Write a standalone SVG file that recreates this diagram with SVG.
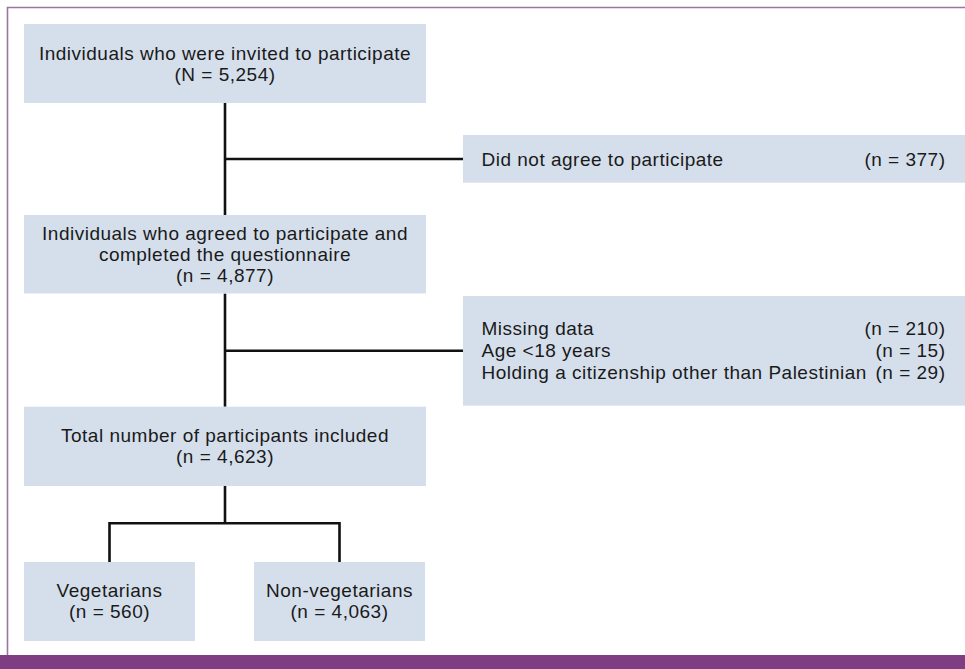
<svg xmlns="http://www.w3.org/2000/svg" width="965" height="669" viewBox="0 0 965 669">
<style>
.box{fill:#d5dfec}
.t{font-family:"Liberation Sans",Arial,sans-serif;font-size:19px;letter-spacing:0.5px;fill:#1a1a1a}
.c{text-anchor:middle}
.e{text-anchor:end}
.ln{stroke:#111;stroke-width:2.6;fill:none}
</style>
<rect x="0" y="0" width="965" height="669" fill="#fff"/>
<path d="M7.5,655 V7.5 H965" fill="none" stroke="#9d73a3" stroke-width="1.6"/>
<rect x="0" y="655" width="965" height="14" fill="#7e3e81"/>

<g id="connectors">
<path class="ln" d="M225,103 V215 M225,159 H463"/>
<path class="ln" d="M225,293.5 V406.7 M225,350.7 H463"/>
<path class="ln" d="M225,486 V523.3 M109.5,562 V523.3 H339.5 V562"/>
</g>

<g id="invited">
<rect class="box" x="24" y="24" width="402" height="79"/>
<text class="t c" x="225" y="59.5">Individuals who were invited to participate</text>
<text class="t c" x="225" y="80.5">(N = 5,254)</text>
</g>

<g id="declined">
<rect class="box" x="463" y="135" width="502" height="47.7"/>
<text class="t" x="481.5" y="165.5">Did not agree to participate</text>
<text class="t e" x="945.5" y="165.5">(n = 377)</text>
</g>

<g id="agreed">
<rect class="box" x="24" y="215" width="402" height="78.5"/>
<text class="t c" x="225" y="240">Individuals who agreed to participate and</text>
<text class="t c" x="225" y="261">completed the questionnaire</text>
<text class="t c" x="225" y="282">(n = 4,877)</text>
</g>

<g id="excluded">
<rect class="box" x="463" y="296" width="502" height="109.7"/>
<text class="t" x="481.5" y="334.5">Missing data</text>
<text class="t e" x="945.5" y="334.5">(n = 210)</text>
<text class="t" x="481.5" y="356.5">Age &lt;18 years</text>
<text class="t e" x="945.5" y="356.5">(n = 15)</text>
<text class="t" x="481.5" y="378.5">Holding a citizenship other than Palestinian</text>
<text class="t e" x="945.5" y="378.5">(n = 29)</text>
</g>

<g id="total">
<rect class="box" x="24" y="406.7" width="402" height="79.3"/>
<text class="t c" x="225" y="442">Total number of participants included</text>
<text class="t c" x="225" y="463">(n = 4,623)</text>
</g>

<g id="vegetarians">
<rect class="box" x="24" y="562" width="171" height="79"/>
<text class="t c" x="109.5" y="596.5">Vegetarians</text>
<text class="t c" x="109.5" y="617.5">(n = 560)</text>
</g>

<g id="nonvegetarians">
<rect class="box" x="254" y="562" width="171" height="79"/>
<text class="t c" x="339.5" y="596.5">Non-vegetarians</text>
<text class="t c" x="339.5" y="617.5">(n = 4,063)</text>
</g>
</svg>
